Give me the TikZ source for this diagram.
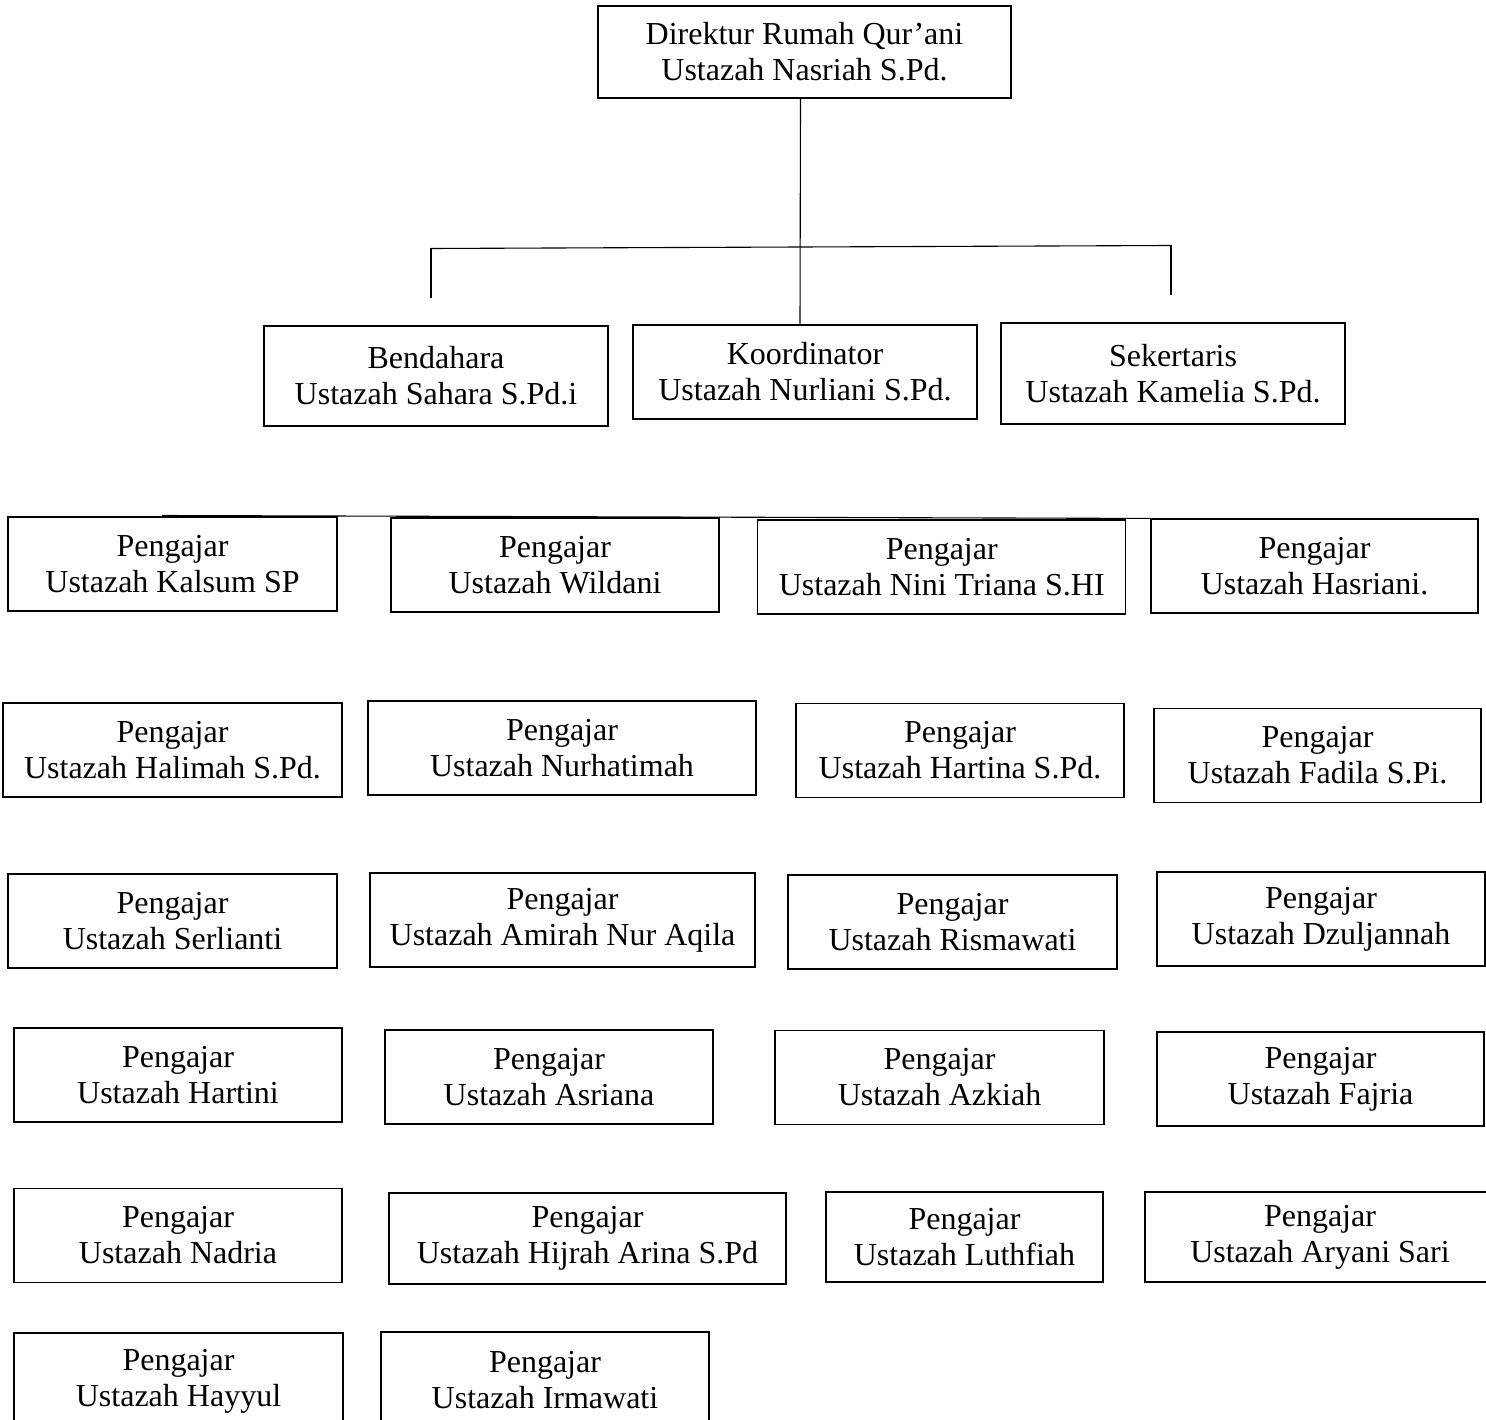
\documentclass[tikz,border=0pt]{standalone}
\usepackage{fontspec}
\setmainfont{Liberation Serif}
\usepackage{tikz}
\tikzset{
  x=1pt,y=-1pt,
}
\tikzstyle{kotak}=[draw,line width=1.1pt,align=center,inner sep=0pt,font=\fontsize{32}{36}\selectfont]
\tikzstyle{garis}=[line width=1.1pt]
\tikzstyle{ukuran}=[minimum width=#1,minimum height=94pt]

\begin{document}
\begin{tikzpicture}
    \useasboundingbox (0,0) rectangle (1486,1420);
    \node[kotak,minimum width=413pt,minimum height=92pt] (direktur) at (804.5,52) {Direktur Rumah Qur’ani\\Ustazah Nasriah S.Pd.};
    \node[kotak,minimum width=344pt,minimum height=100pt] (bendahara) at (436,376) {Bendahara\\Ustazah Sahara S.Pd.i};
    \node[kotak,minimum width=344pt,minimum height=94pt] (koordinator) at (805,372) {Koordinator\\Ustazah Nurliani S.Pd.};
    \node[kotak,minimum width=344pt,minimum height=101pt] (sekertaris) at (1173,373.5) {Sekertaris\\Ustazah Kamelia S.Pd.};

    \node[kotak,ukuran=329pt] (kalsum) at (172.5,564) {Pengajar\\Ustazah Kalsum SP};
    \node[kotak,ukuran=328pt] (wildani) at (555,565) {Pengajar\\Ustazah Wildani};
    \node[kotak,ukuran=368pt] (nini) at (941.75,567) {Pengajar\\Ustazah Nini Triana S.HI};
    \node[kotak,ukuran=327pt] (hasriani) at (1314.5,566) {Pengajar\\Ustazah Hasriani.};

    \node[kotak,ukuran=339pt] (halimah) at (172.5,750) {Pengajar\\Ustazah Halimah S.Pd.};
    \node[kotak,ukuran=388pt] (nurhatimah) at (562,748) {Pengajar\\Ustazah Nurhatimah};
    \node[kotak,ukuran=328pt] (hartina) at (960,750.5) {Pengajar\\Ustazah Hartina S.Pd.};
    \node[kotak,ukuran=327pt] (fadila) at (1317.5,755.5) {Pengajar\\Ustazah Fadila S.Pi.};

    \node[kotak,ukuran=329pt] (serlianti) at (172.5,921) {Pengajar\\Ustazah Serlianti};
    \node[kotak,ukuran=385pt] (amirah) at (562.5,920) {Pengajar\\Ustazah Amirah Nur Aqila};
    \node[kotak,ukuran=329pt] (rismawati) at (952.5,922) {Pengajar\\Ustazah Rismawati};
    \node[kotak,ukuran=328pt] (dzuljannah) at (1321,919) {Pengajar\\Ustazah Dzuljannah};

    \node[kotak,ukuran=328pt] (hartini) at (178,1075) {Pengajar\\Ustazah Hartini};
    \node[kotak,ukuran=328pt] (asriana) at (549,1077) {Pengajar\\Ustazah Asriana};
    \node[kotak,ukuran=329pt] (azkiah) at (939.5,1077.5) {Pengajar\\Ustazah Azkiah};
    \node[kotak,ukuran=327pt] (fajria) at (1320.5,1079) {Pengajar\\Ustazah Fajria};

    \node[kotak,ukuran=328pt] (nadria) at (178,1235.5) {Pengajar\\Ustazah Nadria};
    \node[kotak,ukuran=397pt,minimum height=91pt] (hijrah) at (587.5,1238.5) {Pengajar\\Ustazah Hijrah Arina S.Pd};
    \node[kotak,ukuran=277pt,minimum height=90pt] (luthfiah) at (964.5,1237) {Pengajar\\Ustazah Luthfiah};
    \node[kotak,ukuran=350pt,minimum height=90pt] (aryani) at (1320,1237) {Pengajar\\Ustazah Aryani Sari};

    \node[kotak,ukuran=329pt,minimum height=96pt] (hayyul) at (178.5,1381) {Pengajar\\Ustazah Hayyul};
    \node[kotak,ukuran=328pt,minimum height=96pt] (irmawati) at (545,1380) {Pengajar\\Ustazah Irmawati};

    \coordinate (kiri) at (431,248.5);
    \coordinate (kanan) at (1171,245.5);
    \coordinate (kiribawah) at (431,298);
    \coordinate (kananbawah) at (1171,295);
    \coordinate (awal) at (162,515.5);
    \draw[garis] ([xshift=-4pt]direktur.south) -- ([xshift=-5pt]koordinator.north);
    \draw[garis] (kiri) -- (kanan);
    \draw[garis] (kiri) -- (kiribawah);
    \draw[garis] (kanan) -- (kananbawah);
    \draw[garis] (awal) -- (hasriani.north west);
  \end{tikzpicture}
\end{document}
